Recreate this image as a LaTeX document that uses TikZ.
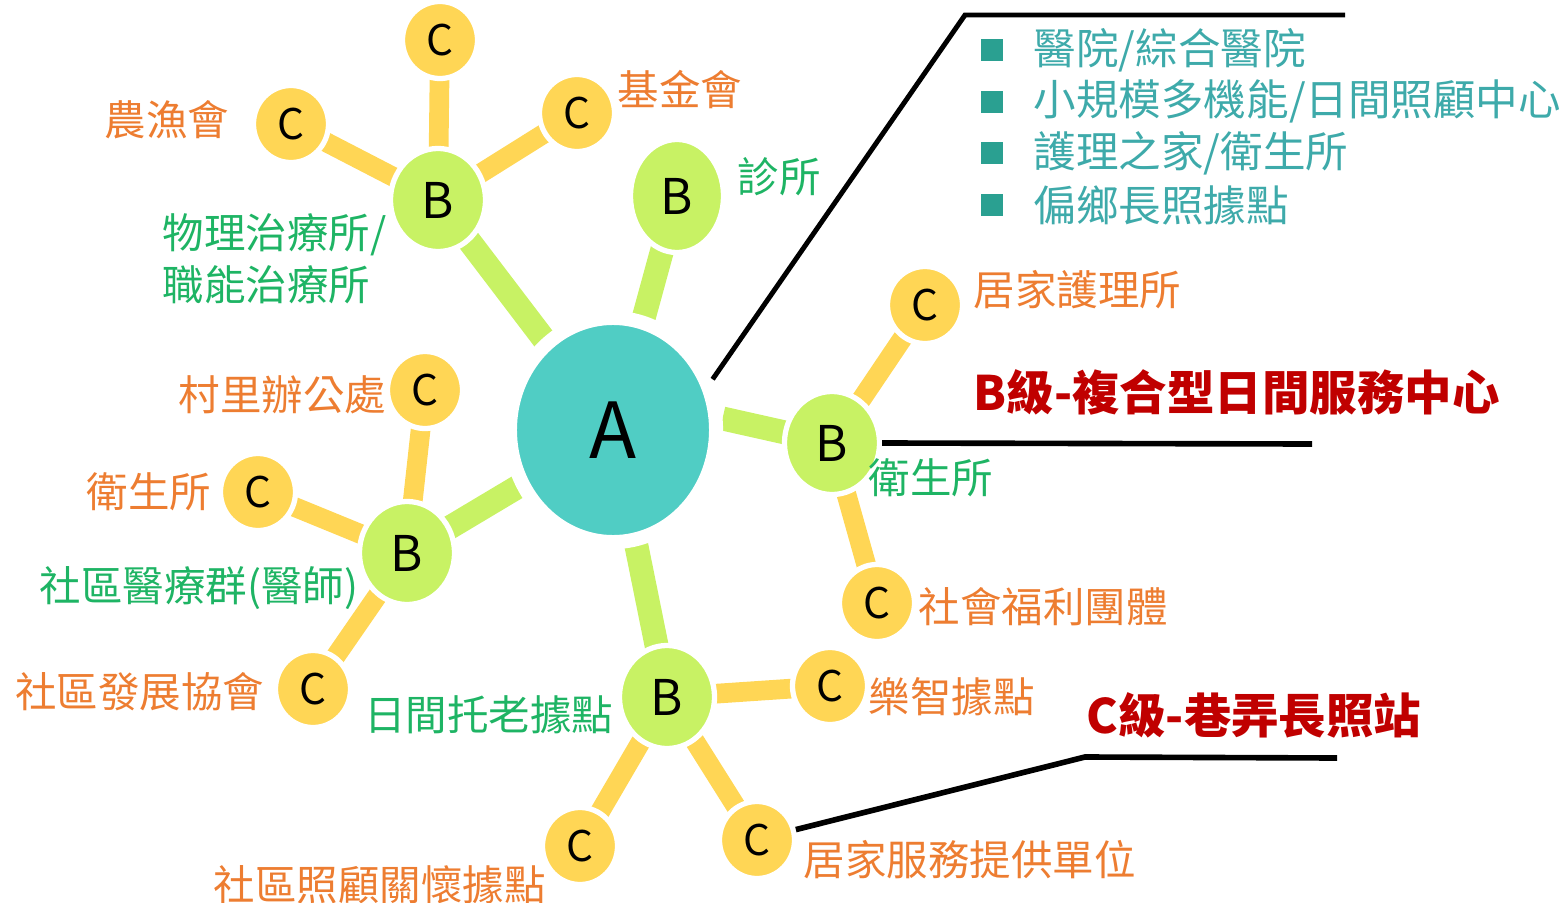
\documentclass[tikz,border=0pt]{standalone}
\usepackage{fontspec}
\setmainfont{Noto Sans CJK TC}
\usetikzlibrary{shapes.geometric}
\usetikzlibrary{positioning}
\usetikzlibrary{backgrounds}
\definecolor{aFill}{RGB}{80,205,196}
\definecolor{bFill}{RGB}{200,242,100}
\definecolor{cFill}{RGB}{255,214,85}
\definecolor{orangeTxt}{RGB}{237,125,49}
\definecolor{greenTxt}{RGB}{30,180,100}
\definecolor{tealTxt}{RGB}{62,170,170}
\definecolor{tealBox}{RGB}{42,160,145}
\definecolor{redTxt}{RGB}{192,0,0}

\begin{document}
\begin{tikzpicture}[x=0.01cm,y=-0.01cm,
anode/.style={ellipse,fill=aFill,draw=white,line width=4pt,minimum width=2.06cm,minimum height=2.24cm,inner sep=0pt,font=\fontsize{22}{24}\selectfont},
bnode/.style={ellipse,fill=bFill,draw=white,line width=1.5pt,minimum width=0.95cm,minimum height=1.03cm,inner sep=0pt,font=\fontsize{14}{16}\selectfont},
cnode/.style={ellipse,fill=cFill,draw=white,line width=1.5pt,minimum width=0.75cm,minimum height=0.77cm,inner sep=0pt,font=\fontsize{12}{14}\selectfont},
gbar/.style={draw=bFill,line width=6.8pt},
ybar/.style={draw=cFill,line width=5.6pt},
lead/.style={draw=black,line width=1.4pt},
otxt/.style={inner sep=0pt,text=orangeTxt,font=\fontsize{11.8}{14.7}\selectfont},
gtxt/.style={inner sep=0pt,text=greenTxt,align=left,font=\fontsize{11.8}{14.7}\selectfont},
ttxt/.style={inner sep=0pt,text=tealTxt,font=\fontsize{12.1}{14.7}\selectfont},
rtxt/.style={inner sep=0pt,text=redTxt,font=\fontsize{13.5}{16}\selectfont\bfseries}]
\useasboundingbox (0,0) rectangle (1560,903);

% levels A, B, C
\node[anode] (a) at (613,430) {A};
\node[bnode] (b1) at (438,200) {B};
\node[bnode,minimum width=0.93cm,minimum height=1.13cm] (b2) at (677,196) {B};
\node[bnode] (b3) at (832,443) {B};
\node[bnode] (b4) at (407,553) {B};
\node[bnode] (b5) at (667,697) {B};
\node[cnode] (c1) at (440,40) {C};
\node[cnode] (c2) at (291,124) {C};
\node[cnode] (c3) at (577,113) {C};
\node[cnode] (c4) at (925,305) {C};
\node[cnode] (c5) at (877,603) {C};
\node[cnode] (c6) at (425,390) {C};
\node[cnode] (c7) at (258,492) {C};
\node[cnode] (c8) at (313,689) {C};
\node[cnode] (c9) at (830,686) {C};
\node[cnode] (c10) at (580,846) {C};
\node[cnode] (c11) at (757,840) {C};

\begin{pgfonlayer}{background}
\draw[gbar] (a.center) -- (b1.center);
\draw[gbar] (a.center) -- (b2.center);
\draw[gbar] (a.6) -- (b3.center);
\draw[gbar] (a.center) -- (b4.center);
\draw[gbar] (a.center) -- (b5.center);
\foreach \b/\c in {b1/c1,b1/c2,b1/c3,b3/c4,b3/c5,b4/c6,b4/c7,b4/c8,b5/c9,b5/c10,b5/c11}
  \draw[ybar] (\b.center) -- (\c.center);
\end{pgfonlayer}

% leader lines
\coordinate (k1) at (965,15);
\coordinate (k2) at (1345,15);
\coordinate (k3) at (1312,444);
\coordinate (k4) at (1085,757);
\coordinate (k5) at (1337,758);
\draw[lead] (a.27) -- (k1) -- (k2);
\draw[lead,line width=1.6pt] (b3.east) -- (k3);
\draw[lead,line width=1.6pt] (c11.15) -- (k4) -- (k5);

% legend of level A
\foreach \txt [count=\i] in {醫院/綜合醫院,小規模多機能/日間照顧中心,護理之家/衛生所,偏鄉長照據點}{
  \pgfmathsetmacro\yy{50+51.7*(\i-1)}
  \fill[tealBox] (981,\yy-11) rectangle (1003,\yy+11);
  \node[ttxt,anchor=west] (leg\i) at (1033,\yy) {\txt};
}

% labels
\node[rtxt,anchor=west] (tb) at (973,392) {B級-複合型日間服務中心};
\node[rtxt,anchor=west] (tc) at (1086,715) {C級-巷弄長照站};
\node[gtxt,anchor=west] (lb1) at (162,259) {物理治療所/\\職能治療所};
\node[gtxt,anchor=west] (lb2) at (737,177) {診所};
\node[gtxt,anchor=west] (lb3) at (868,478) {衛生所};
\node[gtxt,anchor=east] (lb4) at (359,588) {社區醫療群(醫師)};
\node[gtxt,anchor=east] (lb5) at (614,715) {日間托老據點};
\node[otxt,anchor=east] (lc2) at (230,120) {農漁會};
\node[otxt,anchor=west] (lc3) at (617,90) {基金會};
\node[otxt,anchor=west] (lc4) at (973,290) {居家護理所};
\node[otxt,anchor=west] (lc5) at (918,607) {社會福利團體};
\node[otxt,anchor=east] (lc6) at (387,395) {村里辦公處};
\node[otxt,anchor=east] (lc7) at (212,492) {衛生所};
\node[otxt,anchor=east] (lc8) at (265,692) {社區發展協會};
\node[otxt,anchor=west] (lc9) at (868,697) {樂智據點};
\node[otxt,anchor=west] (lc10) at (213,885) {社區照顧關懷據點};
\node[otxt,anchor=west] (lc11) at (803,860) {居家服務提供單位};
\end{tikzpicture}
\end{document}
